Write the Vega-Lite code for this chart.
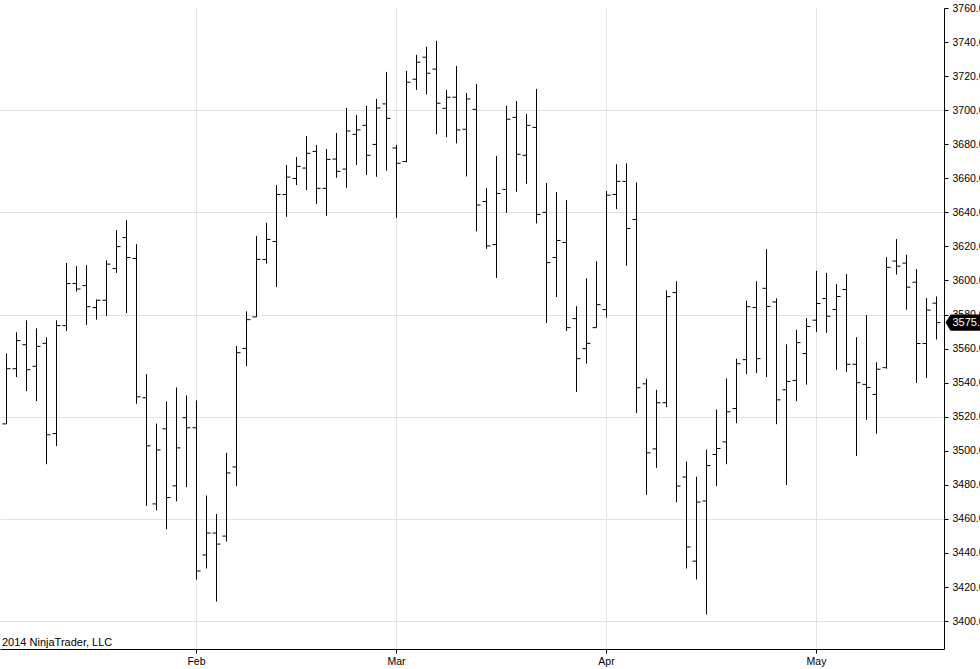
{
  "$schema": "https://vega.github.io/schema/vega-lite/v6.json",
  "autosize": {"type": "none"},
  "width": 944,
  "height": 641,
  "padding": {"left": 0, "top": 8, "right": 36, "bottom": 20},
  "background": "white",
  "title": {"text": "2014 NinjaTrader, LLC", "orient": "bottom", "anchor": "start", "frame": "group", "offset": -30, "dx": 2, "fontSize": 11, "fontWeight": "normal", "font": "Liberation Sans", "color": "black"},
  "config": {
    "view": {"stroke": null},
    "font": "Liberation Sans",
    "axis": {"labelFont": "Liberation Sans", "labelFontSize": 10.5, "labelColor": "black", "domainColor": "black", "tickColor": "black", "gridColor": "#e2e2e2", "title": null, "labelOverlap": false}
  },
  "data": {"values": [
    {"date": "2014-01-07", "open": 3515.8, "high": 3557.2, "low": 3515.8, "close": 3548.2},
    {"date": "2014-01-08", "open": 3548.2, "high": 3569.6, "low": 3543.3, "close": 3564.7},
    {"date": "2014-01-09", "open": 3562.3, "high": 3576.6, "low": 3535.0, "close": 3547.6},
    {"date": "2014-01-10", "open": 3549.6, "high": 3571.9, "low": 3529.2, "close": 3561.3},
    {"date": "2014-01-13", "open": 3563.1, "high": 3566.6, "low": 3492.1, "close": 3509.4},
    {"date": "2014-01-14", "open": 3510.1, "high": 3576.6, "low": 3502.7, "close": 3573.5},
    {"date": "2014-01-15", "open": 3573.5, "high": 3610.3, "low": 3570.3, "close": 3598.2},
    {"date": "2014-01-16", "open": 3598.2, "high": 3608.4, "low": 3593.5, "close": 3595.0},
    {"date": "2014-01-17", "open": 3597.0, "high": 3609.0, "low": 3573.9, "close": 3584.6},
    {"date": "2014-01-20", "open": 3584.1, "high": 3588.8, "low": 3577.0, "close": 3588.4},
    {"date": "2014-01-21", "open": 3588.4, "high": 3611.9, "low": 3579.2, "close": 3609.6},
    {"date": "2014-01-22", "open": 3607.0, "high": 3629.6, "low": 3604.5, "close": 3619.9},
    {"date": "2014-01-23", "open": 3625.2, "high": 3635.4, "low": 3580.9, "close": 3613.5},
    {"date": "2014-01-24", "open": 3612.9, "high": 3621.3, "low": 3527.6, "close": 3531.7},
    {"date": "2014-01-27", "open": 3531.1, "high": 3545.0, "low": 3467.6, "close": 3502.9},
    {"date": "2014-01-28", "open": 3468.8, "high": 3516.0, "low": 3465.0, "close": 3500.5},
    {"date": "2014-01-29", "open": 3512.9, "high": 3529.0, "low": 3453.9, "close": 3472.5},
    {"date": "2014-01-30", "open": 3479.4, "high": 3537.2, "low": 3470.3, "close": 3501.7},
    {"date": "2014-01-31", "open": 3519.4, "high": 3532.5, "low": 3478.6, "close": 3513.5},
    {"date": "2014-02-03", "open": 3513.5, "high": 3529.6, "low": 3424.3, "close": 3429.4},
    {"date": "2014-02-04", "open": 3438.8, "high": 3473.7, "low": 3430.9, "close": 3451.7},
    {"date": "2014-02-05", "open": 3451.7, "high": 3462.9, "low": 3411.5, "close": 3445.2},
    {"date": "2014-02-06", "open": 3449.9, "high": 3498.8, "low": 3446.8, "close": 3487.0},
    {"date": "2014-02-07", "open": 3490.5, "high": 3561.5, "low": 3479.2, "close": 3557.6},
    {"date": "2014-02-10", "open": 3560.1, "high": 3581.9, "low": 3549.7, "close": 3577.0},
    {"date": "2014-02-11", "open": 3578.6, "high": 3626.2, "low": 3578.6, "close": 3612.4},
    {"date": "2014-02-12", "open": 3612.3, "high": 3633.9, "low": 3609.9, "close": 3624.1},
    {"date": "2014-02-13", "open": 3622.9, "high": 3656.0, "low": 3596.2, "close": 3650.5},
    {"date": "2014-02-14", "open": 3650.5, "high": 3667.8, "low": 3637.4, "close": 3660.7},
    {"date": "2014-02-17", "open": 3659.9, "high": 3672.5, "low": 3656.0, "close": 3667.0},
    {"date": "2014-02-18", "open": 3666.0, "high": 3684.8, "low": 3653.1, "close": 3674.7},
    {"date": "2014-02-19", "open": 3675.8, "high": 3679.6, "low": 3644.9, "close": 3654.1},
    {"date": "2014-02-20", "open": 3654.1, "high": 3677.2, "low": 3638.0, "close": 3671.1},
    {"date": "2014-02-21", "open": 3671.3, "high": 3686.6, "low": 3660.3, "close": 3664.1},
    {"date": "2014-02-24", "open": 3665.4, "high": 3701.3, "low": 3654.5, "close": 3687.8},
    {"date": "2014-02-25", "open": 3685.8, "high": 3697.2, "low": 3667.8, "close": 3688.4},
    {"date": "2014-02-26", "open": 3691.1, "high": 3702.5, "low": 3661.9, "close": 3673.5},
    {"date": "2014-02-27", "open": 3679.9, "high": 3706.6, "low": 3660.9, "close": 3701.3},
    {"date": "2014-02-28", "open": 3703.7, "high": 3722.5, "low": 3664.5, "close": 3695.2},
    {"date": "2014-03-03", "open": 3677.8, "high": 3679.6, "low": 3636.8, "close": 3668.8},
    {"date": "2014-03-04", "open": 3669.9, "high": 3723.1, "low": 3669.4, "close": 3716.4},
    {"date": "2014-03-05", "open": 3718.2, "high": 3732.5, "low": 3711.9, "close": 3728.2},
    {"date": "2014-03-06", "open": 3731.1, "high": 3737.2, "low": 3709.2, "close": 3721.7},
    {"date": "2014-03-07", "open": 3724.1, "high": 3740.7, "low": 3685.8, "close": 3704.1},
    {"date": "2014-03-10", "open": 3701.1, "high": 3711.9, "low": 3684.1, "close": 3707.6},
    {"date": "2014-03-11", "open": 3707.6, "high": 3726.0, "low": 3680.5, "close": 3688.4},
    {"date": "2014-03-12", "open": 3688.8, "high": 3710.1, "low": 3661.1, "close": 3706.6},
    {"date": "2014-03-13", "open": 3700.5, "high": 3715.4, "low": 3628.8, "close": 3644.3},
    {"date": "2014-03-14", "open": 3646.4, "high": 3654.3, "low": 3618.6, "close": 3620.3},
    {"date": "2014-03-17", "open": 3621.1, "high": 3673.1, "low": 3601.5, "close": 3651.1},
    {"date": "2014-03-18", "open": 3653.5, "high": 3702.5, "low": 3639.8, "close": 3694.7},
    {"date": "2014-03-19", "open": 3695.8, "high": 3705.4, "low": 3652.1, "close": 3674.1},
    {"date": "2014-03-20", "open": 3673.5, "high": 3697.8, "low": 3656.8, "close": 3691.1},
    {"date": "2014-03-21", "open": 3689.9, "high": 3712.5, "low": 3633.5, "close": 3638.8},
    {"date": "2014-03-24", "open": 3640.0, "high": 3657.2, "low": 3575.0, "close": 3610.5},
    {"date": "2014-03-25", "open": 3613.5, "high": 3651.9, "low": 3590.3, "close": 3623.5},
    {"date": "2014-03-26", "open": 3622.3, "high": 3647.2, "low": 3570.3, "close": 3572.3},
    {"date": "2014-03-27", "open": 3577.6, "high": 3584.9, "low": 3534.5, "close": 3554.1},
    {"date": "2014-03-28", "open": 3560.0, "high": 3601.3, "low": 3551.2, "close": 3563.1},
    {"date": "2014-03-31", "open": 3572.3, "high": 3611.3, "low": 3572.3, "close": 3585.8},
    {"date": "2014-04-01", "open": 3582.9, "high": 3652.5, "low": 3578.2, "close": 3650.1},
    {"date": "2014-04-02", "open": 3650.5, "high": 3668.2, "low": 3641.9, "close": 3658.2},
    {"date": "2014-04-03", "open": 3658.2, "high": 3668.8, "low": 3608.6, "close": 3630.5},
    {"date": "2014-04-04", "open": 3635.8, "high": 3657.6, "low": 3522.1, "close": 3537.0},
    {"date": "2014-04-07", "open": 3539.3, "high": 3542.3, "low": 3474.1, "close": 3498.8},
    {"date": "2014-04-08", "open": 3501.1, "high": 3535.8, "low": 3490.0, "close": 3528.2},
    {"date": "2014-04-09", "open": 3528.2, "high": 3594.2, "low": 3525.6, "close": 3590.5},
    {"date": "2014-04-10", "open": 3592.9, "high": 3599.5, "low": 3469.7, "close": 3479.3},
    {"date": "2014-04-11", "open": 3484.6, "high": 3493.7, "low": 3430.9, "close": 3443.5},
    {"date": "2014-04-14", "open": 3435.2, "high": 3484.8, "low": 3424.4, "close": 3469.9},
    {"date": "2014-04-15", "open": 3470.5, "high": 3500.7, "low": 3403.9, "close": 3491.3},
    {"date": "2014-04-16", "open": 3497.8, "high": 3524.2, "low": 3479.2, "close": 3501.3},
    {"date": "2014-04-17", "open": 3505.2, "high": 3542.5, "low": 3492.1, "close": 3522.9},
    {"date": "2014-04-21", "open": 3524.8, "high": 3554.1, "low": 3516.2, "close": 3551.1},
    {"date": "2014-04-22", "open": 3553.5, "high": 3588.2, "low": 3545.0, "close": 3584.6},
    {"date": "2014-04-23", "open": 3584.1, "high": 3599.5, "low": 3545.6, "close": 3554.1},
    {"date": "2014-04-24", "open": 3595.4, "high": 3618.4, "low": 3543.3, "close": 3584.8},
    {"date": "2014-04-25", "open": 3587.4, "high": 3589.5, "low": 3515.6, "close": 3529.9},
    {"date": "2014-04-28", "open": 3535.8, "high": 3562.5, "low": 3479.9, "close": 3540.7},
    {"date": "2014-04-29", "open": 3541.3, "high": 3571.1, "low": 3529.1, "close": 3563.5},
    {"date": "2014-04-30", "open": 3557.1, "high": 3577.9, "low": 3538.8, "close": 3573.0},
    {"date": "2014-05-01", "open": 3576.7, "high": 3605.7, "low": 3569.8, "close": 3586.5},
    {"date": "2014-05-02", "open": 3589.4, "high": 3604.5, "low": 3569.2, "close": 3579.0},
    {"date": "2014-05-05", "open": 3583.0, "high": 3597.9, "low": 3547.5, "close": 3590.6},
    {"date": "2014-05-06", "open": 3594.7, "high": 3603.7, "low": 3546.3, "close": 3550.8},
    {"date": "2014-05-07", "open": 3550.8, "high": 3566.7, "low": 3496.9, "close": 3540.0},
    {"date": "2014-05-08", "open": 3539.0, "high": 3579.6, "low": 3518.2, "close": 3537.1},
    {"date": "2014-05-09", "open": 3533.1, "high": 3552.0, "low": 3510.0, "close": 3547.9},
    {"date": "2014-05-12", "open": 3548.8, "high": 3613.7, "low": 3548.2, "close": 3607.7},
    {"date": "2014-05-13", "open": 3611.4, "high": 3624.3, "low": 3603.5, "close": 3608.4},
    {"date": "2014-05-14", "open": 3610.2, "high": 3615.1, "low": 3582.8, "close": 3596.1},
    {"date": "2014-05-15", "open": 3599.0, "high": 3606.7, "low": 3539.8, "close": 3563.0},
    {"date": "2014-05-16", "open": 3563.0, "high": 3589.6, "low": 3542.8, "close": 3582.6},
    {"date": "2014-05-19", "open": 3586.7, "high": 3590.6, "low": 3565.3, "close": 3575.25}
  ]},
  "encoding": {
    "x": {
      "field": "date", "type": "ordinal",
      "scale": {"type": "band", "paddingInner": 0, "paddingOuter": 0.2, "align": 0.375},
      "axis": {
        "values": ["2014-02-03", "2014-03-03", "2014-04-01", "2014-05-01"],
        "labelExpr": "slice(datum.value,5,7)=='02'?'Feb':slice(datum.value,5,7)=='03'?'Mar':slice(datum.value,5,7)=='04'?'Apr':'May'",
        "labelAngle": 0, "grid": true, "tickSize": 4, "labelPadding": 3
      }
    }
  },
  "layer": [
    {
      "mark": {"type": "rule", "color": "black", "strokeWidth": 1},
      "encoding": {
        "y": {
          "field": "low", "type": "quantitative",
          "scale": {"domain": [3383.6, 3760], "nice": false, "zero": false},
          "axis": {
            "orient": "right",
            "values": [3400, 3420, 3440, 3460, 3480, 3500, 3520, 3540, 3560, 3580, 3600, 3620, 3640, 3660, 3680, 3700, 3720, 3740, 3760],
            "format": ".2f", "tickSize": 4, "labelPadding": 4, "labelFlush": false, "labelOverlap": false,
            "grid": true,
            "gridOpacity": {"condition": {"test": "(datum.value - 3400) % 60 === 0 && datum.value < 3760", "value": 1}, "value": 0}
          }
        },
        "y2": {"field": "high"}
      }
    },
    {
      "mark": {"type": "tick", "color": "black", "opacity": 1, "size": 4, "thickness": 1, "xOffset": -2},
      "encoding": {
        "y": {
          "field": "open", "type": "quantitative",
          "axis": {
            "orient": "right",
            "values": [3400, 3420, 3440, 3460, 3480, 3500, 3520, 3540, 3560, 3580, 3600, 3620, 3640, 3660, 3680, 3700, 3720, 3740, 3760],
            "format": ".2f", "tickSize": 4, "labelPadding": 4, "labelFlush": false, "labelOverlap": false,
            "grid": true,
            "gridOpacity": {"condition": {"test": "(datum.value - 3400) % 60 === 0 && datum.value < 3760", "value": 1}, "value": 0}
          }
        }
      }
    },
    {
      "mark": {"type": "tick", "color": "black", "opacity": 1, "size": 4, "thickness": 1, "xOffset": 2},
      "encoding": {
        "y": {
          "field": "close", "type": "quantitative",
          "axis": {
            "orient": "right",
            "values": [3400, 3420, 3440, 3460, 3480, 3500, 3520, 3540, 3560, 3580, 3600, 3620, 3640, 3660, 3680, 3700, 3720, 3740, 3760],
            "format": ".2f", "tickSize": 4, "labelPadding": 4, "labelFlush": false, "labelOverlap": false,
            "grid": true,
            "gridOpacity": {"condition": {"test": "(datum.value - 3400) % 60 === 0 && datum.value < 3760", "value": 1}, "value": 0}
          }
        }
      }
    },
    {
      "transform": [{"filter": "datum.date === '2014-05-19'"}],
      "mark": {"type": "point", "shape": "M-1,0L-0.77,-0.364L1,-0.364L1,0.364L-0.77,0.364Z", "size": 1936, "filled": true, "color": "black", "opacity": 1, "strokeWidth": 0, "xOffset": 31},
      "encoding": {
        "y": {
          "field": "close", "type": "quantitative",
          "axis": {
            "orient": "right",
            "values": [3400, 3420, 3440, 3460, 3480, 3500, 3520, 3540, 3560, 3580, 3600, 3620, 3640, 3660, 3680, 3700, 3720, 3740, 3760],
            "format": ".2f", "tickSize": 4, "labelPadding": 4, "labelFlush": false, "labelOverlap": false,
            "grid": true,
            "gridOpacity": {"condition": {"test": "(datum.value - 3400) % 60 === 0 && datum.value < 3760", "value": 1}, "value": 0}
          }
        }
      }
    },
    {
      "transform": [{"filter": "datum.date === '2014-05-19'"}],
      "mark": {"type": "text", "color": "white", "align": "left", "baseline": "middle", "fontSize": 11, "font": "Liberation Sans", "xOffset": 16},
      "encoding": {
        "y": {
          "field": "close", "type": "quantitative",
          "axis": {
            "orient": "right",
            "values": [3400, 3420, 3440, 3460, 3480, 3500, 3520, 3540, 3560, 3580, 3600, 3620, 3640, 3660, 3680, 3700, 3720, 3740, 3760],
            "format": ".2f", "tickSize": 4, "labelPadding": 4, "labelFlush": false, "labelOverlap": false,
            "grid": true,
            "gridOpacity": {"condition": {"test": "(datum.value - 3400) % 60 === 0 && datum.value < 3760", "value": 1}, "value": 0}
          }
        },
        "text": {"field": "close", "type": "quantitative", "format": ".2f"}
      }
    }
  ]
}
